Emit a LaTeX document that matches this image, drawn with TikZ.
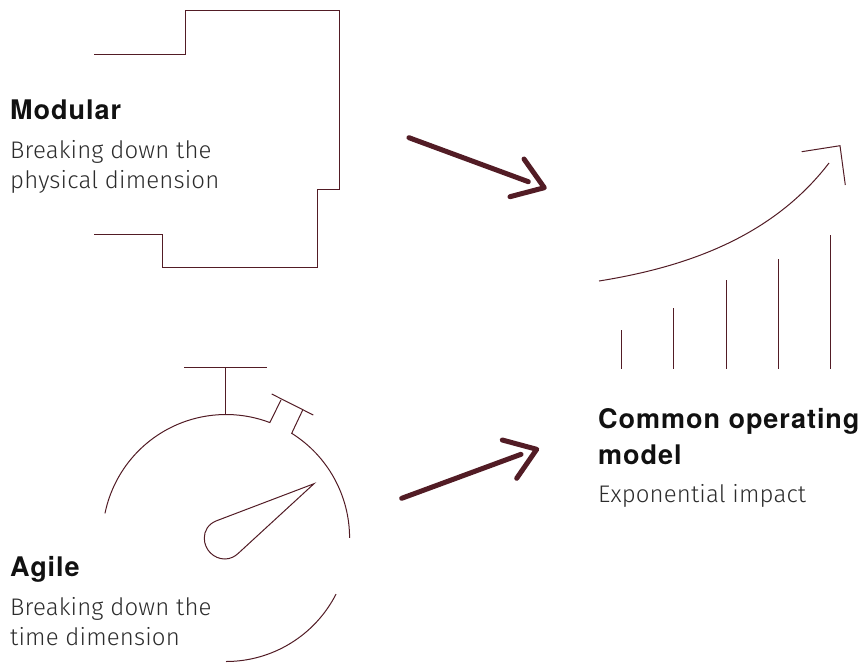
\documentclass[tikz,border=0pt]{standalone}
\usepackage{fontspec}
\usetikzlibrary{calc}
\setmainfont{TeX Gyre Heros}[LetterSpace=3.6]
\newfontfamily\lightfont{Fira Sans Light}[LetterSpace=0.6]
\definecolor{wine}{HTML}{521C25}
\definecolor{ink}{HTML}{111111}
\definecolor{grey}{HTML}{2C2C2C}
\tikzset{
  thinline/.style={draw=wine,line width=1pt,line join=miter},
  fatline/.style={draw=wine,line width=5pt,line cap=round,line join=round},
  heading/.style={anchor=base west,inner sep=0pt,text=ink,font=\fontsize{27}{30}\selectfont\bfseries},
  body/.style={anchor=base west,inner sep=0pt,text=grey,font=\lightfont\fontsize{24}{28}\selectfont},
}
\begin{document}
\begin{tikzpicture}[x=1pt,y=1pt,yscale=-1]
\useasboundingbox (0,0) rectangle (867,662);
% Modular outline
\draw[thinline] (94,54) -- (185,54) -- (185,10) -- (339,10) -- (339,189) -- (317,189) -- (317,267) -- (162,267) -- (162,234) -- (94,234);
% Stopwatch
\coordinate (c) at (226,538);
\draw[thinline] (184.3,367.7) -- (266.7,367.7);
\draw[thinline] (225.7,367.7) -- (225.7,414.5);
\draw[thinline] ($(c)+(-168.5:123.5)$) arc[start angle=-168.5,end angle=-69.2,radius=123.5pt] -- (281,400);
\draw[thinline] (271.7,394) -- (313.3,415);
\draw[thinline] (302.7,410) -- (291.7,433.3) arc[start angle=-57.9,end angle=0,radius=123.5pt];
\draw[thinline] ($(c)+(27:123.5)$) arc[start angle=27,end angle=90,radius=123.5pt];
\draw[thinline] (314,483.7) -- (216.7,520.7) .. controls (208,524) and (204.3,531) .. (204.3,538) .. controls (204.3,550) and (214,559) .. (225,559) .. controls (230,559) and (235,556.5) .. (238.3,553.3) -- cycle;
% Arrows
\coordinate (a1s) at (409,137.7); \coordinate (a1e) at (528.3,181.7);
\draw[fatline] (a1s) -- (a1e);
\draw[fatline] (524,159) -- (544.3,187.7) -- (510,196.7);
\coordinate (a2s) at (401.7,498.3); \coordinate (a2e) at (521,454.3);
\draw[fatline] (a2s) -- (a2e);
\draw[fatline] (502.3,440) -- (536.7,449.3) -- (516.7,478.3);
% Graph
\draw[thinline] (599,281) .. controls (680,268) and (770,240) .. (829,163);
\draw[thinline] (801.7,151.7) -- (840,145.7) -- (845.3,185);
\foreach \x/\y in {621/330,673.5/308,726/280,778/259,830.5/235}
  \draw[thinline] (\x,\y) -- (\x,369);
% Text
\node[heading] (t1) at (10,119) {Modular};
\node[body] (t2) at (10,158) {Breaking down the};
\node[body] (t3) at (10,188) {physical dimension};
\node[heading] (t4) at (10,576) {Agile};
\node[body] (t5) at (10,615) {Breaking down the};
\node[body] (t6) at (10,645) {time dimension};
\node[heading] (t7) at (598,428) {Common operating};
\node[heading] (t8) at (598,464) {model};
\node[body] (t9) at (598,502) {Exponential impact};
\end{tikzpicture}
\end{document}
